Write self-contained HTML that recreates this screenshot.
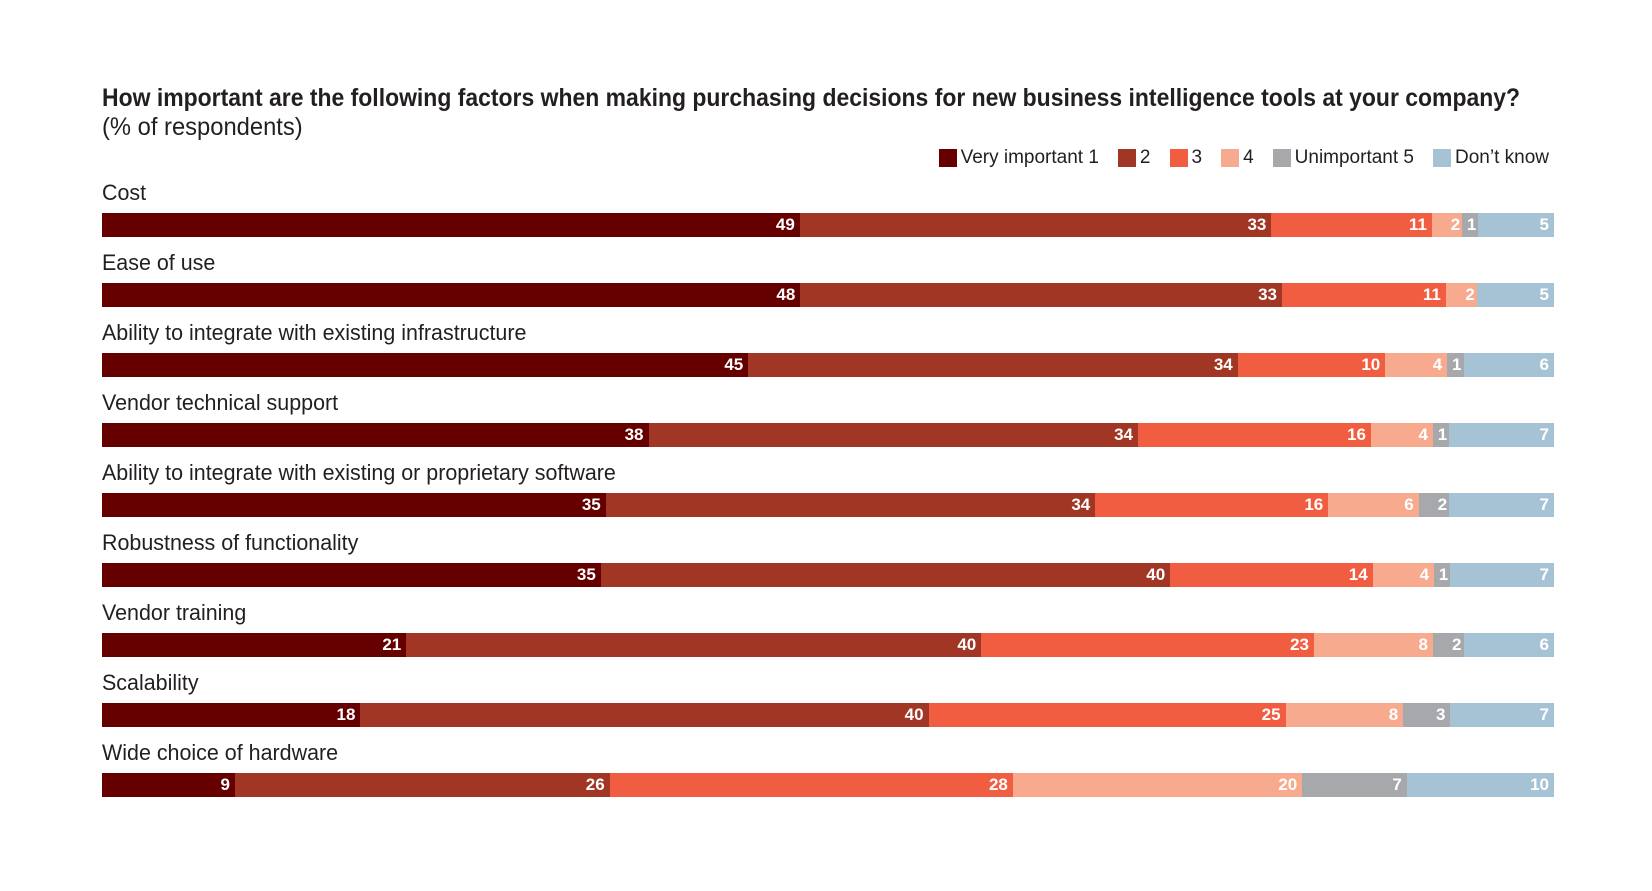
<!DOCTYPE html>
<html><head><meta charset="utf-8"><style>
body{margin:0;width:1652px;height:891px;background:#fff;font-family:"Liberation Sans Narrow","Liberation Sans",sans-serif;color:#231f20;position:relative;overflow:hidden}
.t{position:absolute;left:102px;top:84px;font-size:25px;font-weight:bold;white-space:nowrap;transform:scaleX(0.918);transform-origin:0 0}
.s{position:absolute;left:102px;top:113px;font-size:25px;transform:scaleX(0.95);transform-origin:0 0}
.lg{position:absolute;right:103px;top:147px;font-size:19px;display:flex;align-items:center}
.lg span{display:inline-block;width:18px;height:18px;margin:0 4px 0 19px}
.lab{position:absolute;left:102px;font-size:22px;white-space:nowrap;transform:scaleX(0.975);transform-origin:0 0}
.bar{position:absolute;left:102px;width:1452px;height:24px;display:flex}
.bar div{height:24px;color:#fff;font-weight:bold;font-size:17px;text-align:right;line-height:24px;padding-right:5px;box-sizing:border-box;overflow:hidden}
.c1{background:#660000}.c2{background:#a03623}.c3{background:#f15d40}.c4{background:#f7aa8e}.c5{background:#a7a8ab}.c6{background:#a5c3d4}
</style></head><body>
<div class="t">How important are the following factors when making purchasing decisions for new business intelligence tools at your company?</div>
<div class="s">(% of respondents)</div>
<div class="lg"><span class="c1"></span>Very important 1<span class="c2"></span>2<span class="c3"></span>3<span class="c4"></span>4<span class="c5"></span>Unimportant 5<span class="c6"></span>Don’t know</div>
<div id="rows"></div>
<script>
var d=[["Cost",[49,33,11,2,1,5]],["Ease of use",[48,33,11,2,0,5]],["Ability to integrate with existing infrastructure",[45,34,10,4,1,6]],["Vendor technical support",[38,34,16,4,1,7]],["Ability to integrate with existing or proprietary software",[35,34,16,6,2,7]],["Robustness of functionality",[35,40,14,4,1,7]],["Vendor training",[21,40,23,8,2,6]],["Scalability",[18,40,25,8,3,7]],["Wide choice of hardware",[9,26,28,20,7,10]]];
var h="";
d.forEach(function(r,i){var y=213+i*70.0;
h+='<div class="lab" style="top:'+(y-33)+'px">'+r[0]+'</div><div class="bar" style="top:'+y+'px">';
r[1].forEach(function(v,j){if(v>0)h+='<div class="c'+(j+1)+'" style="flex:'+v+' 0 0;'+(v<3?'padding-right:2px':'')+'">'+v+'</div>';});
h+='</div>';});
document.getElementById("rows").innerHTML=h;
</script>
</body></html>
